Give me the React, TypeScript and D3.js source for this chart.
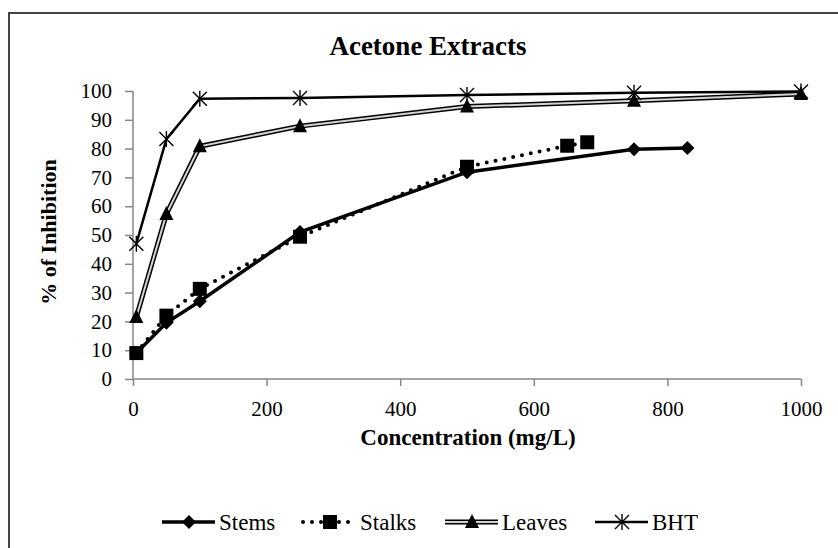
import React, { useEffect, useRef } from "react";
import * as d3 from "d3";

// concentrations (mg/L) and % inhibition
const stemsX = [5, 50, 100, 250, 500, 750, 830];
const stemsY = [9, 19.5, 27, 51, 71.8, 79.8, 80.2];
const stalksX = [5, 50, 100, 250, 500, 650, 680];
const stalksY = [9, 22, 31.3, 49.4, 73.7, 81, 82.2];
const leavesX = [5, 50, 100, 250, 500, 750, 1000];
const leavesY = [21.5, 57.3, 80.8, 87.8, 94.6, 96.6, 99];
const bhtX = [5, 50, 100, 250, 500, 750, 1000];
const bhtY = [47, 83.3, 97.3, 97.6, 98.6, 99.4, 99.8];

const seriesNames = ["Stems", "Stalks", "Leaves", "BHT"];
const xTicks = [0, 200, 400, 600, 800, 1000];
const yTicks = [0, 10, 20, 30, 40, 50, 60, 70, 80, 90, 100];

const FONT = "Liberation Serif, Tinos, Times New Roman, serif";

function App() {
  const ref = useRef(null);

  useEffect(() => {
    const svg = d3.select(ref.current);
    svg.selectAll("*").remove();

    const W = 838,
      H = 548;
    const margin = { top: 91, right: 37, bottom: 169, left: 133 };
    const w = W - margin.left - margin.right,
      h = H - margin.top - margin.bottom;

    // outer chart border
    svg
      .append("rect")
      .attr("x", 9)
      .attr("y", 13)
      .attr("width", 840)
      .attr("height", 560)
      .attr("fill", "white")
      .attr("stroke", "#444")
      .attr("stroke-width", 2);

    // title
    svg
      .append("text")
      .attr("x", 428)
      .attr("y", 55)
      .attr("text-anchor", "middle")
      .attr("font-family", FONT)
      .attr("font-weight", "bold")
      .attr("font-size", 27)
      .text("Acetone Extracts");

    const g = svg.append("g").attr("transform", `translate(${margin.left}, ${margin.top})`);

    const x = d3.scaleLinear().domain([0, 1000]).range([0, w]);
    const y = d3.scaleLinear().domain([0, 100]).range([h, 0]);

    // axes
    const xAxis = g
      .append("g")
      .attr("transform", `translate(0, ${h})`)
      .call(d3.axisBottom(x).tickValues(xTicks).tickFormat(d3.format("d")).tickSize(7).tickPadding(15));
    const yAxis = g
      .append("g")
      .call(d3.axisLeft(y).tickValues(yTicks).tickFormat(d3.format("d")).tickSize(8).tickPadding(13));

    [xAxis, yAxis].forEach((a) => {
      a.attr("font-family", FONT).attr("font-size", 21);
      a.select(".domain").attr("stroke", "#868686").attr("stroke-width", 1.5);
      a.selectAll(".tick line").attr("stroke", "#868686").attr("stroke-width", 1.5);
      a.selectAll("text").attr("fill", "#000");
    });
    xAxis.select(".domain").attr("d", `M0,0H${w}`);
    yAxis.select(".domain").attr("d", `M0,${h}V0`);

    // axis labels
    svg
      .append("text")
      .attr("x", 468)
      .attr("y", 445)
      .attr("text-anchor", "middle")
      .attr("font-family", FONT)
      .attr("font-weight", "bold")
      .attr("font-size", 23)
      .text("Concentration (mg/L)");

    svg
      .append("text")
      .attr("transform", "translate(56, 232) rotate(-90)")
      .attr("text-anchor", "middle")
      .attr("font-family", FONT)
      .attr("font-weight", "bold")
      .attr("font-size", 22)
      .text("% of Inhibition");

    // marker shapes
    const drawMarker = (sel, kind, cx, cy) => {
      if (kind === "Stems") {
        sel.append("path").attr("d", `M${cx},${cy - 7}L${cx + 7},${cy}L${cx},${cy + 7}L${cx - 7},${cy}Z`).attr("fill", "#000");
      } else if (kind === "Stalks") {
        sel.append("rect").attr("x", cx - 7).attr("y", cy - 7).attr("width", 14).attr("height", 14).attr("fill", "#000");
      } else if (kind === "Leaves") {
        sel.append("path").attr("d", `M${cx},${cy - 8}L${cx + 7},${cy + 6}L${cx - 7},${cy + 6}Z`).attr("fill", "#000");
      } else {
        sel
          .append("path")
          .attr("d", `M${cx - 7},${cy - 7}L${cx + 7},${cy + 7}M${cx + 7},${cy - 7}L${cx - 7},${cy + 7}M${cx},${cy - 8}L${cx},${cy + 8}`)
          .attr("stroke", "#000")
          .attr("stroke-width", 1.4)
          .attr("fill", "none");
      }
    };

    const drawLine = (sel, kind, pts) => {
      const line = d3.line();
      const d = line(pts);
      if (kind === "Stems") {
        sel.append("path").attr("d", d).attr("fill", "none").attr("stroke", "#000").attr("stroke-width", 3.5);
      } else if (kind === "Stalks") {
        sel
          .append("path")
          .attr("d", d)
          .attr("fill", "none")
          .attr("stroke", "#000")
          .attr("stroke-width", 4)
          .attr("stroke-linecap", "round")
          .attr("stroke-dasharray", "0 9");
      } else if (kind === "Leaves") {
        // double line: black edges, light centre
        sel.append("path").attr("d", d).attr("fill", "none").attr("stroke", "#000").attr("stroke-width", 5);
        sel.append("path").attr("d", d).attr("fill", "none").attr("stroke", "#d4d4d4").attr("stroke-width", 2);
      } else {
        sel.append("path").attr("d", d).attr("fill", "none").attr("stroke", "#000").attr("stroke-width", 2.5);
      }
    };

    const series = [
      [stemsX, stemsY],
      [stalksX, stalksY],
      [leavesX, leavesY],
      [bhtX, bhtY],
    ];

    series.forEach(([xs, ys], i) => {
      const kind = seriesNames[i];
      const pts = xs.map((v, j) => [x(v), y(ys[j])]);
      const sg = g.append("g");
      drawLine(sg, kind, pts);
      pts.forEach((p) => drawMarker(sg, kind, p[0], p[1]));
    });

    // legend
    const legendX = [162, 303, 445, 595];
    const ly = 522;
    seriesNames.forEach((name, i) => {
      const lg = svg.append("g");
      const x0 = legendX[i];
      drawLine(lg, name, [[x0, ly], [x0 + 53, ly]]);
      drawMarker(lg, name, x0 + 27, ly);
      lg.append("text")
        .attr("x", x0 + 57)
        .attr("y", ly + 8)
        .attr("font-family", FONT)
        .attr("font-size", 23)
        .text(name);
    });
  }, []);

  return (
    <svg
      ref={ref}
      width={838}
      height={548}
      style={{ position: "absolute", left: 0, top: 0, background: "white" }}
    ></svg>
  );
}

export default App;
